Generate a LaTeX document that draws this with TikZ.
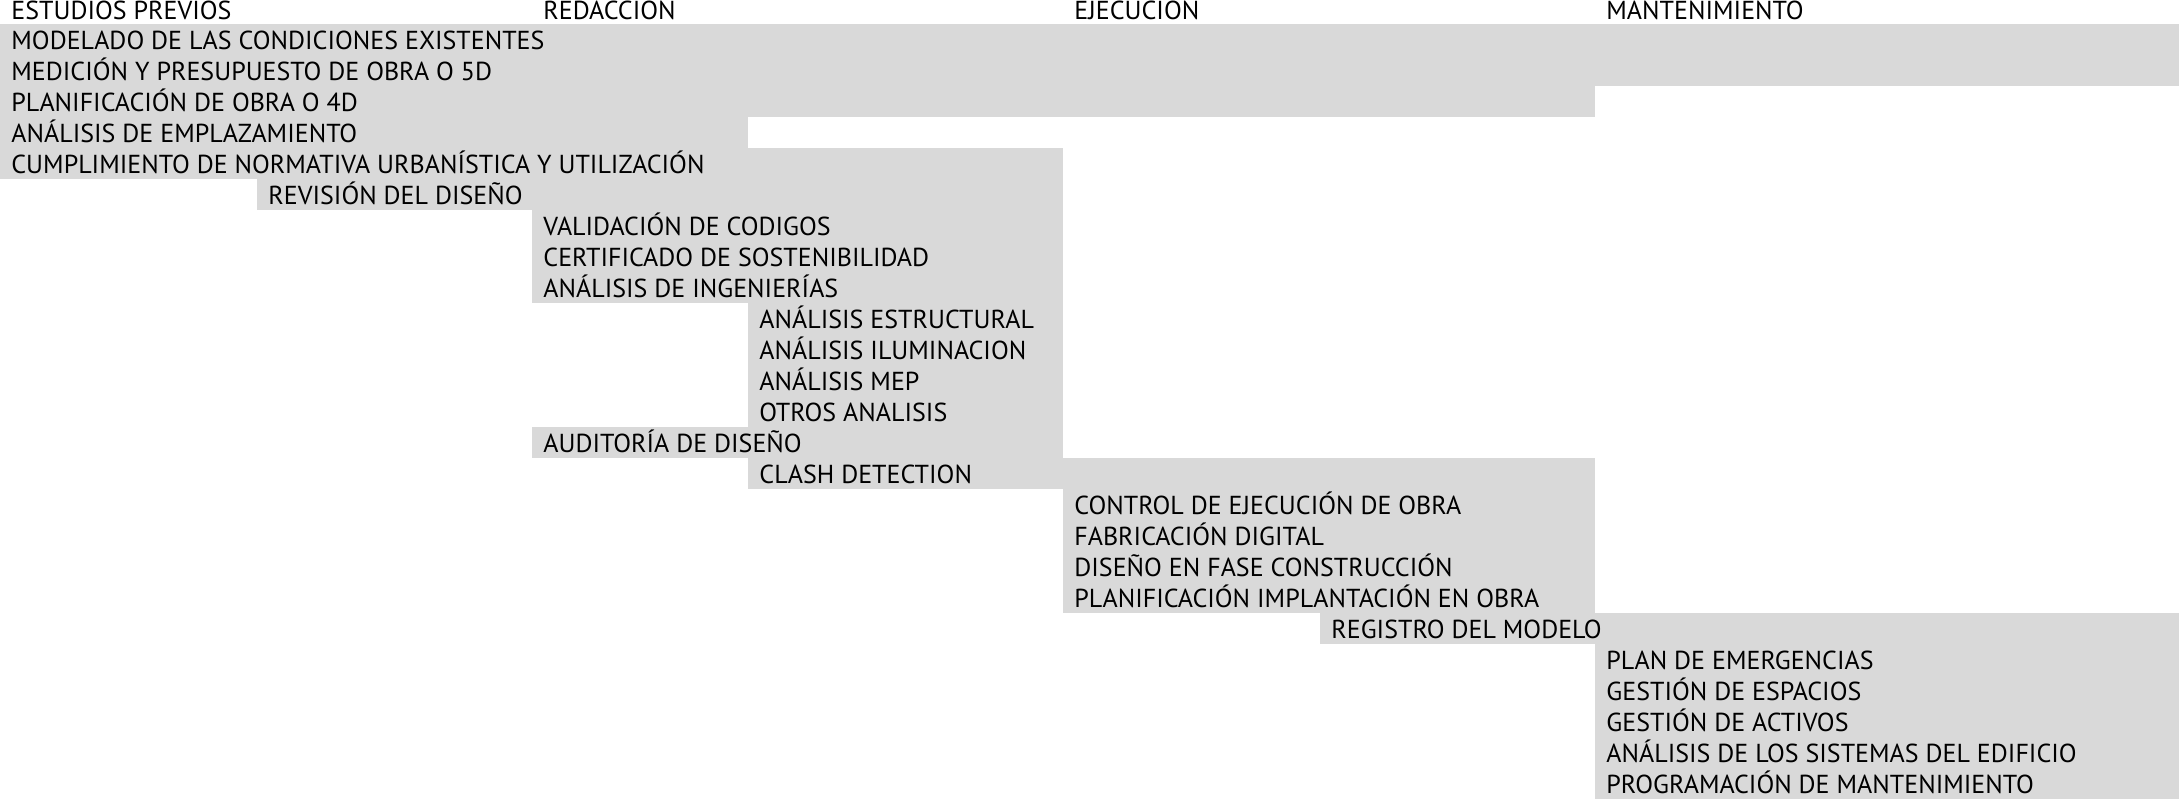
\documentclass[tikz,border=0pt]{standalone}
\usepackage{fontspec}
\setmainfont{PT Sans}
\definecolor{barra}{HTML}{D9D9D9}
\tikzset{
  etiqueta/.style={anchor=base west, inner sep=0pt, font=\fontsize{13}{15}\selectfont},
  fase/.style={etiqueta}
}
\begin{document}
\begin{tikzpicture}[x=0.5pt, y=-0.5pt]
    \useasboundingbox (0,0) rectangle (2179,799);

    % fases
    \node[fase] (estudios) at (11,19) {ESTUDIOS PREVIOS};
    \node[fase] (redaccion) at (543,19) {REDACCION};
    \node[fase] (ejecucion) at (1074,19) {EJECUCION};
    \node[fase] (mantenimiento) at (1606,19) {MANTENIMIENTO};

    % barras: fila / inicio / fin / texto
    \foreach \r/\a/\b/\txt in {
        1/0/2179/MODELADO DE LAS CONDICIONES EXISTENTES,
        2/0/2179/MEDICIÓN Y PRESUPUESTO DE OBRA O 5D,
        3/0/1595/PLANIFICACIÓN DE OBRA O 4D,
        4/0/748/ANÁLISIS DE EMPLAZAMIENTO,
        5/0/1063/CUMPLIMIENTO DE NORMATIVA URBANÍSTICA Y UTILIZACIÓN,
        6/257/1063/REVISIÓN DEL DISEÑO,
        7/532/1063/VALIDACIÓN DE CODIGOS,
        8/532/1063/CERTIFICADO DE SOSTENIBILIDAD,
        9/532/1063/ANÁLISIS DE INGENIERÍAS,
        10/748/1063/ANÁLISIS ESTRUCTURAL,
        11/748/1063/ANÁLISIS ILUMINACION,
        12/748/1063/ANÁLISIS MEP,
        13/748/1063/OTROS ANALISIS,
        14/532/1063/AUDITORÍA DE DISEÑO,
        15/748/1595/CLASH DETECTION,
        16/1063/1595/CONTROL DE EJECUCIÓN DE OBRA,
        17/1063/1595/FABRICACIÓN DIGITAL,
        18/1063/1595/DISEÑO EN FASE CONSTRUCCIÓN,
        19/1063/1595/PLANIFICACIÓN IMPLANTACIÓN EN OBRA,
        20/1320/2179/REGISTRO DEL MODELO,
        21/1595/2179/PLAN DE EMERGENCIAS,
        22/1595/2179/GESTIÓN DE ESPACIOS,
        23/1595/2179/GESTIÓN DE ACTIVOS,
        24/1595/2179/ANÁLISIS DE LOS SISTEMAS DEL EDIFICIO,
        25/1595/2179/PROGRAMACIÓN DE MANTENIMIENTO}
    {
        \pgfmathsetmacro\ya{23.6+(\r-1)*31}
        \pgfmathsetmacro\yb{\ya+31.2}
        \fill[barra] (\a,\ya) rectangle (\b,\yb);
        \node[etiqueta] (t\r) at (\a+11,\ya+25.5) {\txt};
    }
\end{tikzpicture}
\end{document}
